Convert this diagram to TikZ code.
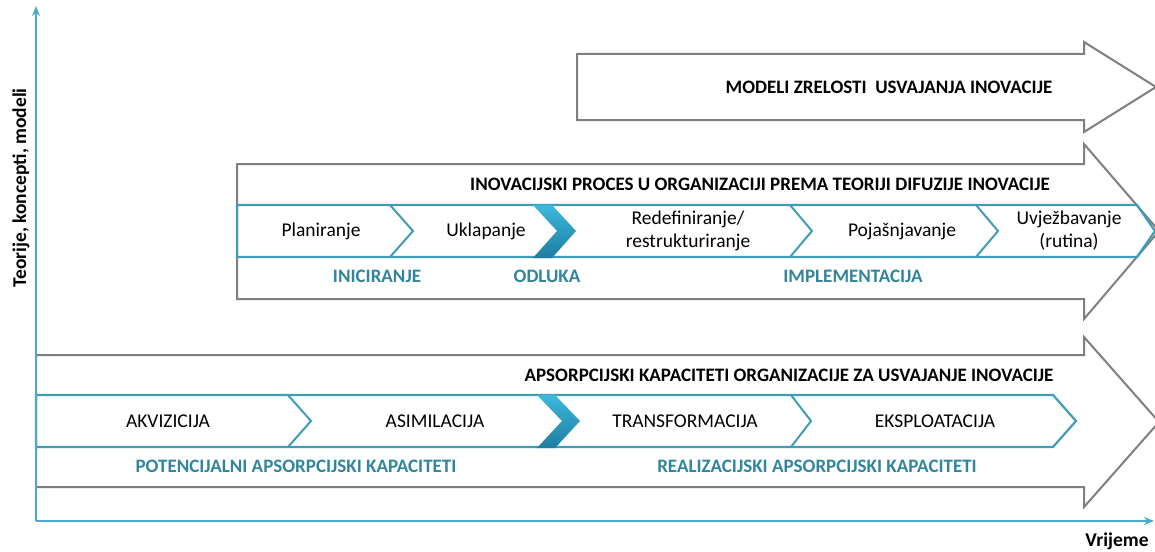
\documentclass[tikz,border=0pt]{standalone}
\usepackage{fontspec}
\setmainfont{Carlito}
\usetikzlibrary{arrows.meta}
\definecolor{axisc}{HTML}{4BACC6}
\definecolor{bandc}{HTML}{3F9DB8}
\definecolor{labc}{HTML}{31859C}
\definecolor{grayc}{HTML}{7F7F7F}
\definecolor{chevtop}{HTML}{3DB8DD}
\definecolor{chevbot}{HTML}{1F7DA0}
\tikzset{
  bigarrow/.style={draw=grayc, line width=2pt, fill=white, line join=miter},
  band/.style={draw=bandc, line width=2.2pt, line join=miter},
  sepline/.style={draw=bandc, line width=2pt, line join=miter},
  darkchev/.style={top color=chevtop, bottom color=chevbot, draw=none},
  item/.style={font=\fontsize{19.5}{23}\selectfont, align=center, inner sep=0pt},
  headtxt/.style={font=\fontsize{19}{22}\selectfont\bfseries, inner sep=0pt},
  lab/.style={font=\fontsize{19}{22}\selectfont\bfseries, text=labc, inner sep=0pt},
  axisline/.style={draw=axisc, line width=2.5pt, -{Stealth[length=10pt,width=8pt]}},
  axlab/.style={font=\fontsize{19.5}{22}\selectfont\bfseries, inner sep=0pt},
}
\begin{document}
\begin{tikzpicture}[x=1pt,y=-1pt]
\useasboundingbox (0,0) rectangle (1155,551);
\fill[white] (0,0) rectangle (1155,551);

% ---------- top arrow: MODELI
\draw[bigarrow] (577,54) -- (1084,54) -- (1084,42) -- (1156,87) -- (1084,132) -- (1084,120) -- (577,120) -- cycle;
\node[headtxt] (modeli) at (889,87) {MODELI ZRELOSTI\ \ USVAJANJA INOVACIJE};

% ---------- middle arrow: INOVACIJSKI PROCES
\draw[bigarrow] (237,164) -- (1084,164) -- (1084,144) -- (1159,231) -- (1084,319) -- (1084,299) -- (237,299) -- cycle;
\node[headtxt] (inovhead) at (760,184) {INOVACIJSKI PROCES U ORGANIZACIJI PREMA TEORIJI DIFUZIJE INOVACIJE};
\draw[band] (237,205) -- (1137,205) -- (1155,231) -- (1137,257) -- (237,257) -- cycle;
\draw[sepline] (390,205) -- (413,231) -- (390,257);
\shade[darkchev] (533,205) -- (552,205) -- (576,231) -- (552,258) -- (533,258) -- (557,231) -- cycle;
\draw[sepline] (790,205) -- (812,231) -- (790,257);
\draw[sepline] (976,205) -- (998,231) -- (976,257);
\node[item] (plan) at (321,231) {Planiranje};
\node[item] (uklap) at (486,231) {Uklapanje};
\node[item] (redef) at (688,231) {Redefiniranje/\\restrukturiranje};
\node[item] (pojas) at (902,231) {Pojašnjavanje};
\node[item] (uvjez) at (1069,231) {Uvježbavanje\\(rutina)};
\node[lab] (inic) at (377,276) {INICIRANJE};
\node[lab] (odluka) at (547,276) {ODLUKA};
\node[lab] (implem) at (853,276) {IMPLEMENTACIJA};

% ---------- bottom arrow: APSORPCIJSKI KAPACITETI
\draw[bigarrow] (36,355) -- (1084,355) -- (1084,337) -- (1159,422) -- (1084,507) -- (1084,487) -- (36,487) -- cycle;
\node[headtxt] (apshead) at (789,375) {APSORPCIJSKI KAPACITETI ORGANIZACIJE ZA USVAJANJE INOVACIJE};
\draw[band] (36,395) -- (1053,395) -- (1076,421) -- (1053,447) -- (36,447) -- cycle;
\draw[sepline] (288,395) -- (311,421) -- (288,447);
\shade[darkchev] (537,395) -- (555,395) -- (580,421) -- (555,448) -- (537,448) -- (562,421) -- cycle;
\draw[sepline] (791,395) -- (811,421) -- (791,447);
\node[item] (akv) at (168,421) {AKVIZICIJA};
\node[item] (asim) at (435,421) {ASIMILACIJA};
\node[item] (trans) at (685,421) {TRANSFORMACIJA};
\node[item] (ekspl) at (935,421) {EKSPLOATACIJA};
\node[lab] (potenc) at (296,466) {POTENCIJALNI APSORPCIJSKI KAPACITETI};
\node[lab] (realiz) at (817,466) {REALIZACIJSKI APSORPCIJSKI KAPACITETI};

% ---------- axes
\coordinate (origin) at (36,521);
\coordinate (ytop) at (36,6);
\coordinate (xend) at (1154,521);
\draw[axisline] (origin) -- (ytop);
\draw[axisline] (origin) -- (xend);
\node[axlab, rotate=90] (ylab) at (21,188) {Teorije, koncepti, modeli};
\node[axlab] (xlab) at (1117,541) {Vrijeme};
\end{tikzpicture}
\end{document}
